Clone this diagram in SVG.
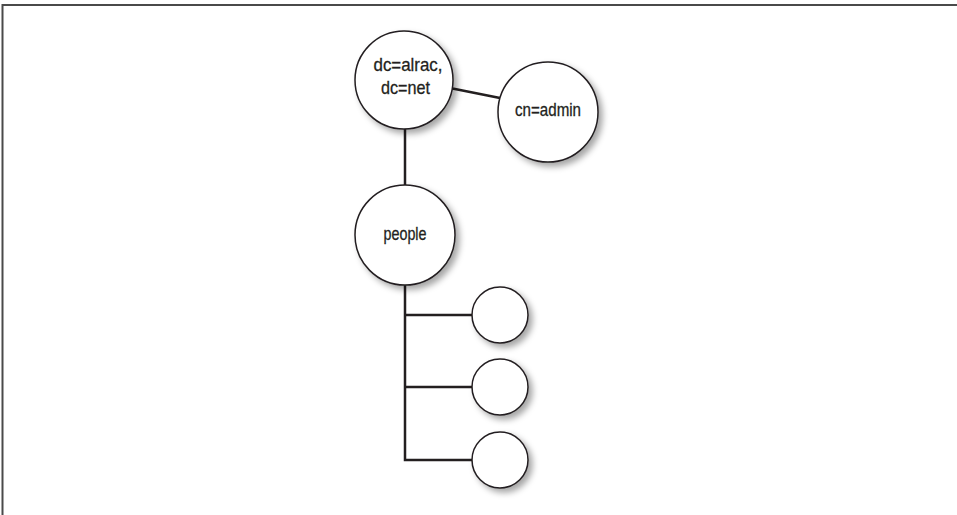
<svg xmlns="http://www.w3.org/2000/svg" width="957" height="515" viewBox="0 0 957 515">
<defs>
<filter id="sh" x="-30%" y="-30%" width="170%" height="170%">
<feDropShadow dx="4" dy="4" stdDeviation="3" flood-color="#000" flood-opacity="0.35"/>
</filter>
<style>
.n{fill:#fff;stroke:#231f20;stroke-width:1.5;filter:url(#sh)}
.c{fill:none;stroke:#231f20;stroke-width:2.5}
.t{font-family:"Liberation Sans",Arial,sans-serif;font-size:18.5px;fill:#231f20;text-anchor:middle;stroke:#231f20;stroke-width:0.3}
.f{fill:none;stroke:#4a4a4a;stroke-width:2}
</style>
</defs>
<rect width="957" height="515" fill="#fff"/>
<path class="f" d="M2.5,515 V5 H957"/>
<g id="connectors">
<line class="c" x1="450" y1="88" x2="500" y2="98"/>
<line class="c" x1="405" y1="125" x2="405" y2="190"/>
<polyline class="c" points="405,280 405,460 475,460"/>
<line class="c" x1="405" y1="315" x2="475" y2="315"/>
<line class="c" x1="405" y1="387" x2="475" y2="387"/>
</g>
<g id="root">
<circle class="n" cx="404" cy="80" r="49"/>
<text class="t" x="408" y="71" textLength="69" lengthAdjust="spacingAndGlyphs">dc=alrac,</text>
<text class="t" x="405.5" y="93.5" textLength="49" lengthAdjust="spacingAndGlyphs">dc=net</text>
</g>
<g id="admin">
<circle class="n" cx="548" cy="112" r="50"/>
<text class="t" x="548" y="115.5" textLength="66" lengthAdjust="spacingAndGlyphs">cn=admin</text>
</g>
<g id="people">
<circle class="n" cx="405" cy="235" r="50"/>
<text class="t" x="405" y="240" textLength="43" lengthAdjust="spacingAndGlyphs">people</text>
</g>
<g id="leaf1"><circle class="n" cx="500" cy="315" r="28"/></g>
<g id="leaf2"><circle class="n" cx="500" cy="387" r="28"/></g>
<g id="leaf3"><circle class="n" cx="500" cy="460" r="28"/></g>
</svg>
